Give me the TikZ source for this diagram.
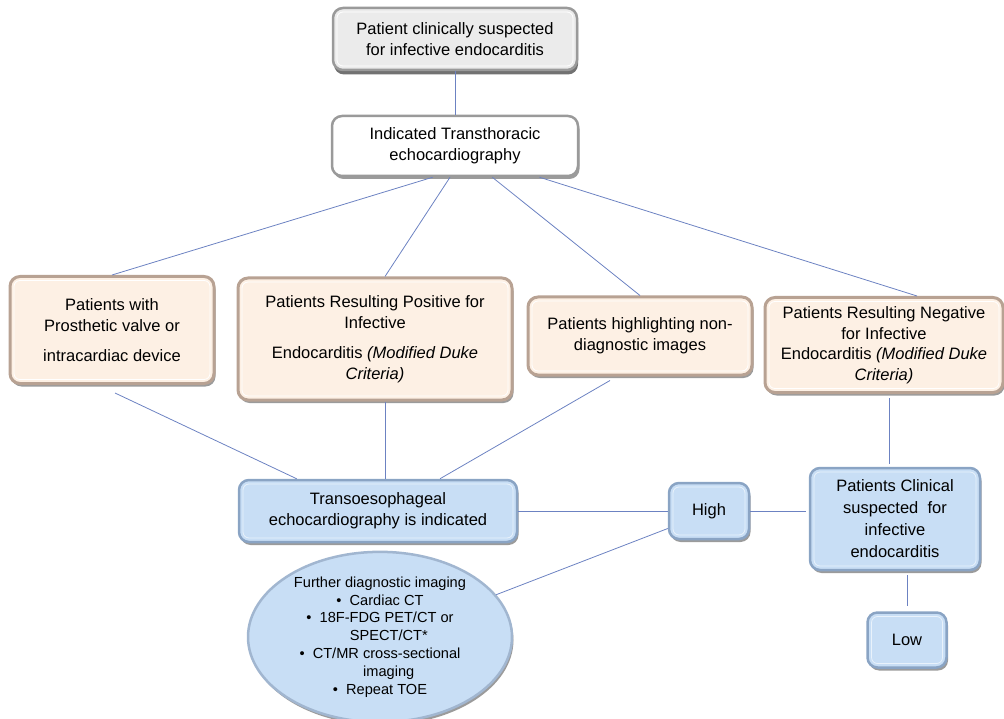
\documentclass[tikz,border=0pt]{standalone}
\usepackage{fontspec}
\setmainfont{Liberation Sans}
\usetikzlibrary{shapes.geometric,shadows,calc}
\definecolor{peach}{HTML}{FDF0E4}
\definecolor{peachedge}{HTML}{B8A293}
\definecolor{blu}{HTML}{C8DEF5}
\definecolor{bluedge}{HTML}{8AA4C4}
\definecolor{grayfill}{HTML}{EBEBEB}
\definecolor{grayedge}{HTML}{9A9A9A}
\definecolor{connc}{HTML}{6C82C2}
\tikzset{
  base/.style={rounded corners=10pt, align=center, inner sep=0pt, font=\fontsize{16.5}{21}\selectfont},
  innerline/.style={path picture={\draw[#1, line width=0.8pt, rounded corners=6pt]
      ([shift={(4pt,4pt)}]path picture bounding box.south west) rectangle
      ([shift={(-4pt,-4pt)}]path picture bounding box.north east);}},
  shad/.style={drop shadow={shadow xshift=1.5pt, shadow yshift=-3pt, fill=black!60, opacity=0.65}},
  peachbox/.style={base, fill=peach, draw=peachedge, line width=3pt, innerline=white, shad},
  bluebox/.style={base, fill=blu, draw=bluedge, line width=2.5pt, innerline=white!60!blu, shad},
  graybox/.style={base, fill=grayfill, draw=grayedge, line width=2.5pt, innerline=white, drop shadow={shadow xshift=1pt, shadow yshift=-4.5pt, fill=black!65, opacity=0.85}},
  whitebox/.style={base, fill=white, draw=grayedge, line width=2.5pt, innerline=white, shad},
  conn/.style={draw=connc, line width=0.8pt}
}
\begin{document}
\begin{tikzpicture}[x=1pt,y=-1pt]
\useasboundingbox (0,0) rectangle (1004,719);

\node[graybox, minimum width=244pt, minimum height=62pt] (top) at (455,39)
  {Patient clinically suspected\\for infective endocarditis};
\node[whitebox, minimum width=246pt, minimum height=60pt] (tte) at (455,146)
  {Indicated Transthoracic\\echocardiography};

\node[peachbox, minimum width=204pt, minimum height=107pt] (left) at (112,330)
  {Patients with\\Prosthetic valve or\\[9pt]intracardiac device};
\node[peachbox, minimum width=274pt, minimum height=122pt] (pos) at (375,339)
  {Patients Resulting Positive for\\Infective\\[9pt]Endocarditis \textit{(Modified Duke}\\\textit{Criteria)}};
\node[peachbox, minimum width=224pt, minimum height=78pt] (nond) at (640,336)
  {Patients highlighting non-\\diagnostic images};
\node[peachbox, minimum width=238pt, minimum height=95pt, font=\fontsize{16.5}{20.5}\selectfont] (neg) at (884,345)
  {Patients Resulting Negative\\for Infective\\Endocarditis \textit{(Modified Duke}\\\textit{Criteria)}};

\node[bluebox, minimum width=278pt, minimum height=62pt] (toe) at (378,511)
  {Transoesophageal\\echocardiography is indicated};
\node[bluebox, minimum width=80pt, minimum height=56pt] (high) at (709,511) {High};
\node[bluebox, minimum width=170pt, minimum height=102pt, font=\fontsize{16.5}{22}\selectfont] (clin) at (895,519)
  {Patients Clinical\\suspected\ \ for\\infective\\endocarditis};
\node[bluebox, minimum width=79pt, minimum height=55pt] (low) at (907,640) {Low};

\node[ellipse, fill=blu, draw=bluedge!80, line width=2.5pt, shad, minimum width=264pt, minimum height=149pt,
      inner sep=0pt, align=center, font=\fontsize{14.6}{17.8}\selectfont] (ell) at (380,637)
  {Further diagnostic imaging\\• \ Cardiac CT\\• \ 18F-FDG PET/CT or\\\hspace{1.2em}SPECT/CT*\\• \ CT/MR cross-sectional\\\hspace{1.2em}imaging\\• \ Repeat TOE};

\draw[conn] (top.south) -- (tte.north);
\draw[conn] ($(tte.south west)!0.41!(tte.south east)$) -- (left.north);
\draw[conn] ($(tte.south west)!0.48!(tte.south east)$) -- ($(pos.north)+(10,0)$);
\draw[conn] ($(tte.south west)!0.65!(tte.south east)$) -- (nond.north);
\draw[conn] ($(tte.south west)!0.84!(tte.south east)$) -- ($(neg.north)+(33,0)$);
\draw[conn] ($(left.south)+(3,8)$) -- ($(toe.north west)!0.21!(toe.north east)$);
\draw[conn] ($(pos.south)+(10,0)$) -- ($(toe.north)+(7,0)$);
\draw[conn] ($(nond.south)+(-30,4)$) -- ($(toe.north)+(62,0)$);
\draw[conn] ($(neg.south)+(5,4)$) -- ($(clin.north)+(-6,-3)$);
\draw[conn] (toe.east) -- (high.west);
\draw[conn] (high.east) -- ($(clin.west)+(-3,-8)$);
\draw[conn] (high.203) -- (ell.20);
\draw[conn] ($(clin.south)+(12,4)$) -- ($(low.north)+(0,-5)$);
\end{tikzpicture}
\end{document}
